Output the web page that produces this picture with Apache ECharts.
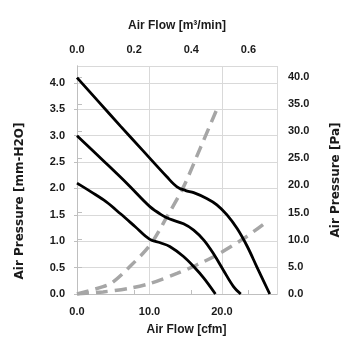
<!DOCTYPE html>
<html>
<head>
<meta charset="utf-8">
<script src="https://cdn.jsdelivr.net/npm/echarts@6/dist/echarts.min.js"></script>
<style>
html,body{margin:0;padding:0;background:#fff;}
#chart{width:355px;height:355px;}
</style>
</head>
<body>
<div id="chart"></div>
<script>
// Fan P-Q curves (x: cfm, y: mm-H2O)
const highX = [0, 3, 6, 9, 12.4, 13.8, 15, 16.1, 17.9, 19.3, 20.7, 22.1, 23.5, 24.8, 26.6];
const highY = [4.1, 3.64, 3.18, 2.73, 2.22, 2.03, 1.96, 1.92, 1.81, 1.69, 1.5, 1.24, 0.9, 0.52, 0.0];
const midX = [0, 3.6, 7, 10.1, 11.9, 12.8, 14.7, 16.1, 17.5, 18.8, 20.2, 21.6, 22.6];
const midY = [3.0, 2.53, 2.08, 1.65, 1.48, 1.42, 1.33, 1.21, 1.02, 0.77, 0.45, 0.14, 0.0];
const lowX = [0, 2, 4, 6, 8, 10, 11.5, 12.8, 14.7, 16.1, 17.5, 19.1];
const lowY = [2.1, 1.93, 1.75, 1.52, 1.28, 1.04, 0.97, 0.9, 0.71, 0.52, 0.3, 0.0];
// System impedance curves (dashed)
const imp1X = [0, 3.6, 4.9, 7.3, 10.1, 12.4, 14.7, 17, 19.3];
const imp1Y = [0, 0.14, 0.22, 0.52, 0.93, 1.46, 2.03, 2.76, 3.5];
const imp2X = [0, 3.6, 7.3, 10.1, 13.8, 16.5, 19.3, 23, 26];
const imp2Y = [0, 0.04, 0.11, 0.2, 0.39, 0.55, 0.74, 1.05, 1.35];

const pairs = (xs, ys) => xs.map((x, i) => [x, ys[i]]);

const chart = echarts.init(document.getElementById('chart'), null, {renderer: 'canvas'});
const labelStyle = {fontFamily: 'Liberation Sans', fontSize: 11, fontWeight: 'bold', color: '#1a1a1a'};
const axisLineStyle = {lineStyle: {color: '#bfbfbf', width: 1}};
const fmt1 = v => v.toFixed(1);

const solid = (xs, ys) => ({
  type: 'line', data: pairs(xs, ys), smooth: 0.35, symbol: 'none',
  xAxisIndex: 0, yAxisIndex: 0,
  lineStyle: {color: '#000', width: 2.8}
});
const dashed = (xs, ys) => ({
  type: 'line', data: pairs(xs, ys), smooth: 0.3, symbol: 'none',
  xAxisIndex: 0, yAxisIndex: 0,
  lineStyle: {color: '#a6a6a6', width: 3.5, type: [12, 7], cap: 'butt'}
});

chart.setOption({
  animation: false,
  backgroundColor: '#fff',
  grid: {left: 77, right: 78, top: 66, bottom: 61, containLabel: false},
  xAxis: [
    {
      type: 'value', position: 'bottom', min: 0, max: 27.6, interval: 10,
      name: 'Air Flow [cfm]', nameLocation: 'middle', nameGap: 30,
      nameTextStyle: {fontFamily: 'Liberation Sans', fontSize: 12, fontWeight: 'bold', color: '#1a1a1a', padding: [0, 0, 0, 19]},
      axisLine: axisLineStyle, axisTick: {show: false},
      axisLabel: Object.assign({margin: 12, formatter: fmt1, showMaxLabel: false}, labelStyle),
      splitLine: {show: true, lineStyle: {color: '#d9d9d9', width: 1}}
    },
    {
      type: 'value', position: 'top', min: 0, max: 0.7, interval: 0.2,
      name: 'Air Flow [m³/min]', nameLocation: 'middle', nameGap: 34,
      nameTextStyle: {fontFamily: 'Liberation Sans', fontSize: 12, fontWeight: 'bold', color: '#1a1a1a'},
      axisLine: axisLineStyle, axisTick: {show: true, length: 4, lineStyle: {color: '#bfbfbf'}},
      axisLabel: Object.assign({margin: 11, formatter: fmt1, showMaxLabel: false}, labelStyle),
      splitLine: {show: false}
    }
  ],
  yAxis: [
    {
      type: 'value', position: 'left', min: 0, max: 4.32, interval: 0.5,
      name: 'Air Pressure [mm-H2O]', nameLocation: 'middle', nameGap: 51, nameRotate: 90,
      nameTextStyle: {fontFamily: 'DejaVu Sans', fontSize: 12, fontWeight: 'bold', color: '#1a1a1a', padding: [0, 42, 0, 0]},
      axisLine: {show: true, lineStyle: {color: '#bfbfbf', width: 1}}, axisTick: {show: true, length: 3, lineStyle: {color: '#bfbfbf'}},
      axisLabel: Object.assign({margin: 12, formatter: fmt1, showMaxLabel: false}, labelStyle),
      splitLine: {show: true, lineStyle: {color: '#d9d9d9', width: 1}}
    },
    {
      type: 'value', position: 'right', min: 0, max: 42, interval: 5,
      name: 'Air Pressure [Pa]', nameLocation: 'middle', nameGap: 53, nameRotate: 90,
      nameTextStyle: {fontFamily: 'DejaVu Sans', fontSize: 12, fontWeight: 'bold', color: '#1a1a1a'},
      axisLine: {show: true, lineStyle: {color: '#bfbfbf', width: 1}}, axisTick: {show: true, length: 5, lineStyle: {color: '#bfbfbf'}},
      axisLabel: Object.assign({margin: 11, formatter: fmt1, showMaxLabel: false}, labelStyle),
      splitLine: {show: false}
    }
  ],
  series: [
    dashed(imp1X, imp1Y),
    dashed(imp2X, imp2Y),
    solid(highX, highY),
    solid(midX, midY),
    solid(lowX, lowY)
  ]
});
</script>
</body>
</html>
